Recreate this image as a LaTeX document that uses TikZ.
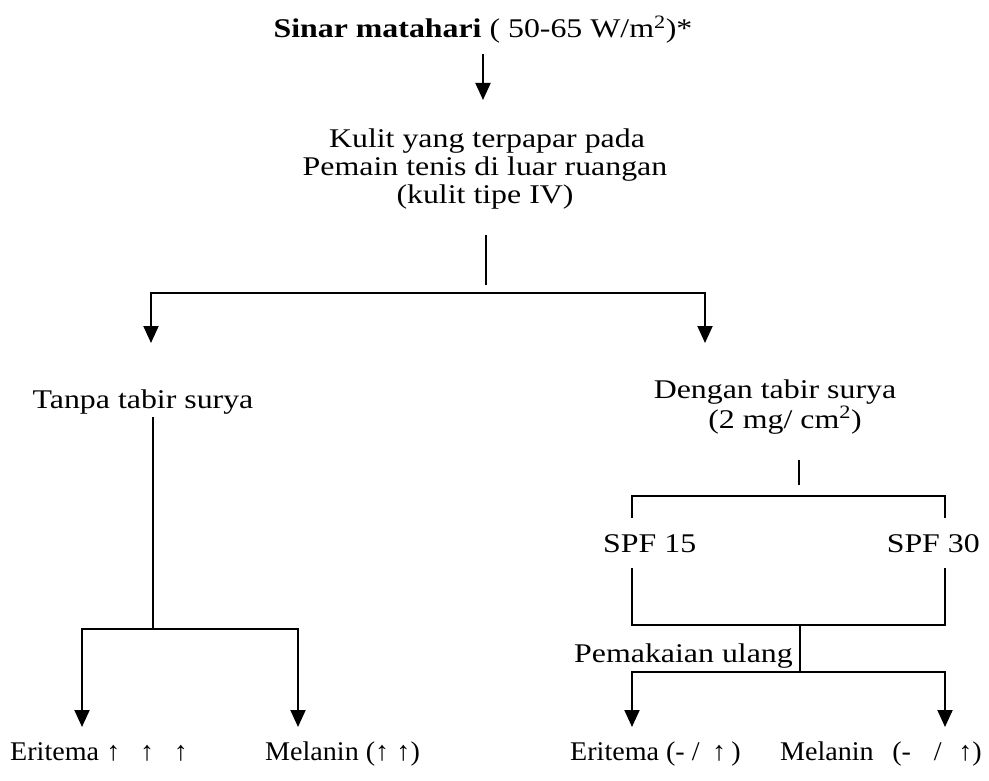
\documentclass[tikz,border=0pt]{standalone}
\usepackage{fontspec}
\setmainfont{Liberation Serif}
\usetikzlibrary{arrows.meta}
\newcommand{\upar}{\textbf{↑}}
\begin{document}
\begin{tikzpicture}[x=1pt,y=-1pt,
  txt/.style={inner sep=0pt, font=\fontsize{27}{26}\selectfont, xscale=1.18},
  txtn/.style={inner sep=0pt, font=\fontsize{27}{26}\selectfont, xscale=1.04},
  ln/.style={line width=2pt, line join=miter},
  arr/.style={ln, -{Triangle[width=15pt,length=17pt]}},
  arrtwo/.style={ln, {Triangle[width=15pt,length=17pt]}-{Triangle[width=15pt,length=17pt]}}]
\useasboundingbox (0,0) rectangle (989,781);
% top
\node[txt, anchor=base] (title) at (483,38) {\textbf{Sinar matahari} ( 50-65 W/m\textsuperscript{2})*};
\node[txt, anchor=base] (k1) at (487,148) {Kulit yang terpapar pada};
\node[txt, anchor=base] (k2) at (485,176) {Pemain tenis di luar ruangan};
\node[txt, anchor=base] (k3) at (485,204) {(kulit tipe IV)};
\coordinate (a1s) at (483,54);
\coordinate (a1e) at (483,100);
\draw[arr] (a1s) -- (a1e);
\coordinate (v1a) at (486,235);
\coordinate (v1b) at (486,285);
\draw[ln] (v1a) -- (v1b);
% first split
\coordinate (tL) at (151,343);
\coordinate (hL) at (151,293);
\coordinate (hR) at (705,293);
\coordinate (tR) at (705,343);
\draw[arrtwo] (tL) -- (hL) -- (hR) -- (tR);
% left branch
\node[txt, anchor=base] (tanpa) at (143,408) {Tanpa tabir surya};
\coordinate (l1a) at (153,417);
\coordinate (l1b) at (153,629);
\draw[ln] (l1a) -- (l1b);
\coordinate (lL) at (82,629);
\coordinate (lR) at (298,629);
\coordinate (lLt) at (82,727);
\coordinate (lRt) at (298,727);
\draw[arrtwo] (lLt) -- (lL) -- (lR) -- (lRt);
\node[txtn, anchor=base west] (eri1) at (10,760) {Eritema\hspace{7pt}\upar\hspace{19pt}\upar\hspace{19pt}\upar};
\node[txtn, anchor=base west] (mel1) at (265,760) {Melanin (\upar\hspace{7pt}\upar)};
% right branch
\node[txt, anchor=base] (dengan) at (775,398) {Dengan tabir surya};
\node[txt, anchor=base] (dose) at (785,428) {(2 mg/ cm\textsuperscript{2})};
\coordinate (r1a) at (799,460);
\coordinate (r1b) at (799,485);
\draw[ln] (r1a) -- (r1b);
\draw[ln] (632,518) -- (632,496) -- (945,496) -- (945,518);
\node[txt, anchor=base west] (spf15) at (603,552) {SPF 15};
\node[txt, anchor=base east] (spf30) at (980,552) {SPF 30};
\draw[ln] (632,568) -- (632,625) -- (945,625) -- (945,568);
\coordinate (s1a) at (800,625);
\coordinate (s1b) at (800,672);
\draw[ln] (s1a) -- (s1b);
\node[txt, anchor=base east] (ulang) at (793,662) {Pemakaian ulang};
\coordinate (rL) at (632,672);
\coordinate (rR) at (945,672);
\coordinate (rLt) at (632,727);
\coordinate (rRt) at (945,727);
\draw[arrtwo] (rLt) -- (rL) -- (rR) -- (rRt);
\node[txtn, anchor=base west] (eri2) at (570,760) {Eritema (- /\hspace{12pt}\upar\hspace{5pt})};
\node[txtn, anchor=base east] (mel2) at (982,760) {Melanin\hspace{18pt}(-\hspace{22pt}/\hspace{16pt}\upar)};
\end{tikzpicture}
\end{document}
